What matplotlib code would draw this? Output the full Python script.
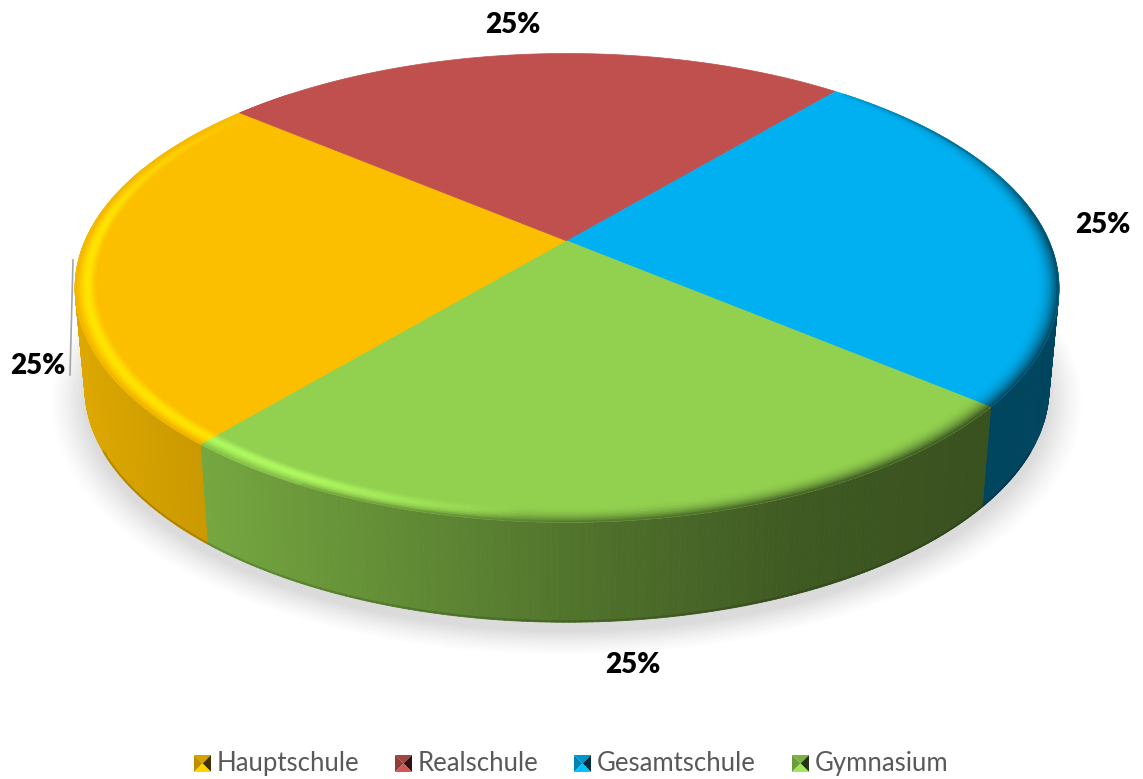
import numpy as np
import matplotlib
matplotlib.use('Agg')
import matplotlib.pyplot as plt
from matplotlib.collections import PolyCollection
from matplotlib.patches import Polygon

plt.rcParams['font.family'] = ['Lato', 'DejaVu Sans']

categories = ['Hauptschule', 'Realschule', 'Gesamtschule', 'Gymnasium']
values = [25, 25, 25, 25]
colors = ['#FCBF00', '#C0504D', '#00B0F0', '#92D050']
labels = ['25%', '25%', '25%', '25%']

# 3d look: circle -> screen through a small perspective, all in pixels
cx, cy = 567, 241
ax_x, ax_y, k = 482, 225, 0.2
depth_x, depth_y, low_y = 0.98, 1.0, 341
start_angle = 230


def top_xy(r, t):
    u, v = r * np.cos(t), r * np.sin(t)
    w = 1 + k * v
    return cx + ax_x * u / w, cy - ax_y * v / w


def low_xy(r, t):
    x, y = top_xy(r, t)
    return cx + depth_x * (x - cx), low_y + depth_y * (y - cy)


def rgb(c):
    return np.array(matplotlib.colors.to_rgb(c))


def wall_shade(x):
    return np.interp(x, [80, 205, 567, 800, 978, 1060], [0.875, 0.80, 0.56, 0.43, 0.39, 0.39])


fig = plt.figure(figsize=(11.43, 7.79), dpi=100)
ax = fig.add_axes([0, 0, 1, 1])
ax.set_xlim(0, 1143)
ax.set_ylim(779, 0)
ax.axis('off')

# soft shadow under the pie
tt = np.linspace(0, 2 * np.pi, 300)
steps = 30
for i in range(steps):
    f = i / (steps - 1)
    grow = 1.07 - 0.07 * f
    x, y = low_xy(grow, tt)
    g = 1 - (1 - 0.86) * f ** 1.3
    ax.fill(x, y + 9, color=(g, g, g), lw=0, zorder=1)

# wedge angles from the values
fracs = np.array(values) / np.sum(values)
edges = np.radians(start_angle - 360 * np.concatenate([[0], np.cumsum(fracs)]))

# side wall, front part only
for i, col in enumerate(colors):
    ts = np.linspace(edges[i], edges[i + 1], 160)
    ts = ts[np.sin(ts) < 0.35]
    if len(ts) < 2:
        continue
    polys, cols = [], []
    for a, b in zip(ts[:-1], ts[1:]):
        x1, y1 = top_xy(1, a)
        x2, y2 = top_xy(1, b)
        x3, y3 = low_xy(1, b)
        x4, y4 = low_xy(1, a)
        polys.append([(x1, y1), (x2, y2), (x3, y3), (x4, y4)])
        cols.append(np.clip(rgb(col) * wall_shade((x1 + x2) / 2), 0, 1))
    ax.add_collection(PolyCollection(polys, facecolors=cols, edgecolors=cols, linewidths=0.6, zorder=2))
    # thin dark line at the foot of the wall, only on the front
    ts = ts[np.sin(ts) < -0.45]
    if len(ts) < 2:
        continue
    lx, ly = low_xy(1, ts)
    shade = wall_shade(lx)
    for a in range(len(lx) - 1):
        ax.plot(lx[a:a + 2], ly[a:a + 2] - 1, color=rgb(col) * shade[a] * 0.85, lw=1.3, zorder=3)

# top face
for i, col in enumerate(colors):
    ts = np.linspace(edges[i], edges[i + 1], 120)
    x, y = top_xy(1, ts)
    ax.add_patch(Polygon(np.c_[np.r_[cx, x], np.r_[cy, y]], closed=True, fc=col, ec=col, lw=0.5, zorder=4))

# bevel along the rim
radii = np.linspace(0.955, 1.0, 11)
for i, col in enumerate(colors):
    base = rgb(col)
    ts = np.linspace(edges[i], edges[i + 1], 140)
    polys, cols = [], []
    for a, b in zip(ts[:-1], ts[1:]):
        m = (a + b) / 2
        v = np.sin(m)
        mx, _ = top_xy(1, m)
        if v > 0.75:
            continue
        front = np.clip((0.7 - v) / 0.6, 0, 1)
        light = np.clip((520 - mx) / 220, 0, 1) * front
        wall = base * wall_shade(mx)
        hi = np.clip(base * 1.2, 0, 1)
        for r1, r2 in zip(radii[:-1], radii[1:]):
            t = ((r1 + r2) / 2 - radii[0]) / (radii[-1] - radii[0])
            c = base + (hi - base) * light * np.sin(np.pi * min(t * 1.05, 1)) ** 2
            dark = t ** (2.2 + 9 * light) * front
            if mx > 700:
                dark = max(dark, t ** 5 * 0.8 * np.clip((mx - 800) / 150, 0, 1))
            elif mx < 300:
                dark *= 0.5
            c = c + (wall - c) * dark
            x1, y1 = top_xy(r1, a)
            x2, y2 = top_xy(r1, b)
            x3, y3 = top_xy(r2, b)
            x4, y4 = top_xy(r2, a)
            polys.append([(x1, y1), (x2, y2), (x3, y3), (x4, y4)])
            cols.append(np.clip(c, 0, 1))
    ax.add_collection(PolyCollection(polys, facecolors=cols, edgecolors=cols, linewidths=0.4, zorder=5))

# data labels
label_xy = [(38, 366), (513, 25), (1103, 225), (633, 665)]
for lab, (x, y) in zip(labels, label_xy):
    ax.text(x, y, lab, fontsize=20, fontweight='heavy', color='black', ha='center', va='center', zorder=8)
ax.plot([73, 70], [260, 375], color='#A6A6A6', lw=1.2, zorder=3)

# legend, keys are small pyramids
key_x = [194, 395, 574, 792]
for name, col, x in zip(categories, colors, key_x):
    y, s = 755, 17
    c = rgb(col)
    mid = (x + s / 2, y + s / 2)
    ax.add_patch(Polygon([(x, y), (x + s, y), mid], fc=c * 0.85, lw=0, zorder=6))
    ax.add_patch(Polygon([(x, y), (x, y + s), mid], fc=c * 0.75, lw=0, zorder=6))
    ax.add_patch(Polygon([(x + s, y), (x + s, y + s), mid], fc=c * 0.25, lw=0, zorder=6))
    ax.add_patch(Polygon([(x, y + s), (x + s, y + s), mid], fc=np.clip(c * 1.1, 0, 1), lw=0, zorder=6))
    ax.text(x + s + 6, 763.5, name, fontsize=18.5, color='#595959', ha='left', va='center', zorder=6)

fig.savefig('out.png', dpi=100)
